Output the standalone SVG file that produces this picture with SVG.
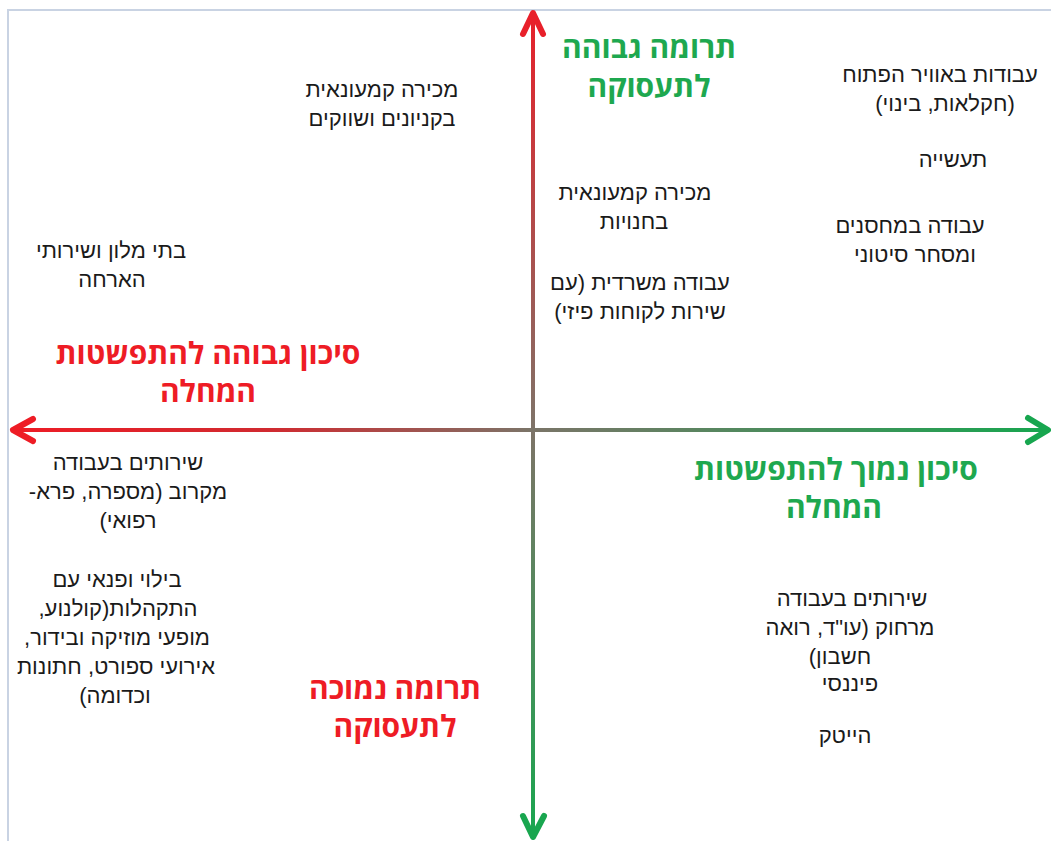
<svg xmlns="http://www.w3.org/2000/svg" width="1051" height="841" viewBox="0 0 1051 841">
<style>
.t{font-family:"Liberation Sans","DejaVu Sans",sans-serif;font-size:22px;fill:#1a1a1a;text-anchor:middle;direction:rtl;unicode-bidi:embed}
.b{font-family:"Open Sans","DejaVu Sans","Liberation Sans",sans-serif;font-size:30px;font-weight:bold;text-anchor:middle;direction:rtl;unicode-bidi:embed}
.g{fill:#1ea84f}
.r{fill:#ee1c25}
.head{fill:none;stroke-width:6;stroke-linecap:round;stroke-linejoin:round}
</style>
<defs>
<linearGradient id="gv" gradientUnits="userSpaceOnUse" x1="0" y1="12" x2="0" y2="838">
<stop offset="0" stop-color="#e8202a"/>
<stop offset="0.5" stop-color="#7f7368"/>
<stop offset="1" stop-color="#19a64f"/>
</linearGradient>
<linearGradient id="gh" gradientUnits="userSpaceOnUse" x1="12" y1="0" x2="1048" y2="0">
<stop offset="0" stop-color="#ee1c25"/>
<stop offset="0.25" stop-color="#d02a30"/>
<stop offset="0.5" stop-color="#7b7468"/>
<stop offset="1" stop-color="#17a64f"/>
</linearGradient>
</defs>
<rect x="0" y="0" width="1051" height="841" fill="#ffffff"/>
<path d="M8 841 V10 H1051" fill="none" stroke="#c9d3e3" stroke-width="2"/>
<g id="connectors">
<line x1="533" y1="14" x2="533" y2="836" stroke="url(#gv)" stroke-width="4"/>
<line x1="14" y1="430" x2="1046" y2="430" stroke="url(#gh)" stroke-width="4"/>
<path class="head" d="M523 34 L533 13 L543 34" stroke="#e8202a"/>
<path class="head" d="M523 816 L533 837 L544 816" stroke="#19a64f"/>
<path class="head" d="M33 419 L13 430 L33 441" stroke="#ee1c25"/>
<path class="head" d="M1028 418 L1048 430 L1028 442" stroke="#17a64f"/>
</g>
<g id="label-high-contribution"><text class="b g" x="649" y="58">תרומה גבוהה</text><text class="b g" x="649" y="97">לתעסוקה</text></g>
<g id="label-low-contribution"><text class="b r" x="395" y="699">תרומה נמוכה</text><text class="b r" x="395" y="737">לתעסוקה</text></g>
<g id="label-high-risk"><text class="b r" x="208" y="364">סיכון גבוהה להתפשטות</text><text class="b r" x="208" y="402">המחלה</text></g>
<g id="label-low-risk"><text class="b g" x="836" y="480">סיכון נמוך להתפשטות</text><text class="b g" x="834" y="518">המחלה</text></g>
<g id="node-mall"><text class="t" x="382" y="97">מכירה קמעונאית</text><text class="t" x="382" y="126">בקניונים ושווקים</text></g>
<g id="node-outdoor"><text class="t" x="940" y="82">עבודות באוויר הפתוח</text><text class="t" x="945" y="111">(חקלאות, בינוי)</text></g>
<g id="node-industry"><text class="t" x="953" y="167">תעשייה</text></g>
<g id="node-warehouse"><text class="t" x="910" y="233">עבודה במחסנים</text><text class="t" x="915" y="262">ומסחר סיטוני</text></g>
<g id="node-stores"><text class="t" x="635" y="200">מכירה קמעונאית</text><text class="t" x="634" y="229">בחנויות</text></g>
<g id="node-office"><text class="t" x="640" y="290">עבודה משרדית (עם</text><text class="t" x="640" y="319">שירות לקוחות פיזי)</text></g>
<g id="node-hotels"><text class="t" x="111" y="258">בתי מלון ושירותי</text><text class="t" x="112" y="287">הארחה</text></g>
<g id="node-close-services"><text class="t" x="128" y="470">שירותים בעבודה</text><text class="t" x="128" y="499">מקרוב (מספרה, פרא-</text><text class="t" x="128" y="528">רפואי)</text></g>
<g id="node-leisure"><text class="t" x="117" y="587">בילוי ופנאי עם</text><text class="t" x="118" y="616">התקהלות(קולנוע,</text><text class="t" x="117" y="645">מופעי מוזיקה ובידור,</text><text class="t" x="116" y="674">אירועי ספורט, חתונות</text><text class="t" x="115" y="703">וכדומה)</text></g>
<g id="node-remote"><text class="t" x="852" y="606">שירותים בעבודה</text><text class="t" x="850" y="635">מרחוק (עו"ד, רואה</text><text class="t" x="840" y="664">חשבון)</text><text class="t" x="850" y="691">פיננסי</text></g>
<g id="node-hitech"><text class="t" x="845" y="743">הייטק</text></g>
</svg>
